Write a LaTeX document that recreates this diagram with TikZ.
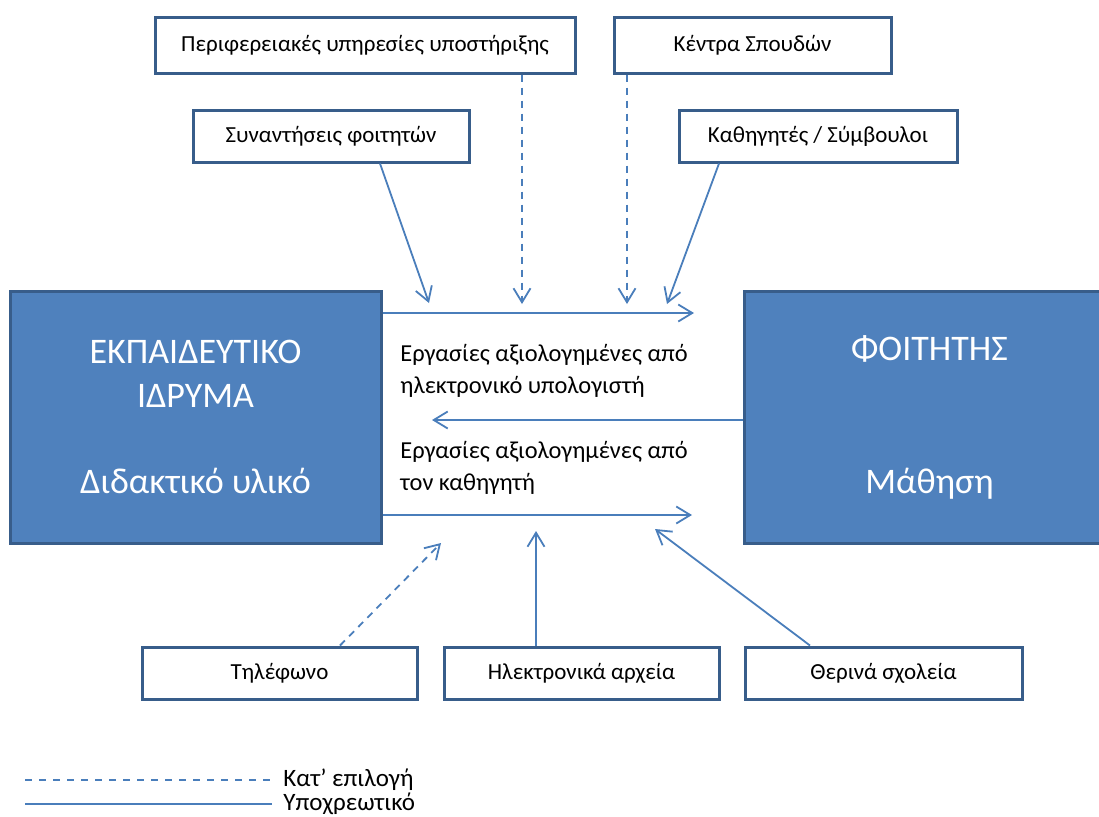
\documentclass[tikz,border=0pt]{standalone}
\usepackage{fontspec}
\setmainfont{Carlito}
\usetikzlibrary{arrows.meta}

\definecolor{boxfill}{HTML}{4F81BD}
\definecolor{boxline}{HTML}{385D8A}
\definecolor{arrowline}{HTML}{4A7EBB}

\begin{document}
\begin{tikzpicture}[x=0.5pt, y=-0.5pt,
        smallbox/.style={draw=boxline, line width=1.5pt, fill=white, minimum height=26pt, inner sep=0pt, font=\fontsize{11.5}{14}\selectfont},
        bigbox/.style={draw=boxline, line width=1.5pt, fill=boxfill, minimum width=185.5pt, minimum height=126pt, text=white, align=center, font=\fontsize{18}{22}\selectfont},
        link/.style={arrowline, line width=0.9pt, -{Straight Barb[length=7pt, width=8.5pt]}},
        optional/.style={dash pattern=on 3.5pt off 3pt}]
        \useasboundingbox (0,0) rectangle (1099,816);

        % main boxes
        \node[bigbox] (idryma) at (195.5,417) {ΕΚΠΑΙΔΕΥΤΙΚΟ\\ΙΔΡΥΜΑ\\[21pt]Διδακτικό υλικό};
        \node[bigbox] (foititis) at (929.5,417) {ΦΟΙΤΗΤΗΣ\\[44.5pt]Μάθηση};

        % top boxes
        \node[smallbox, minimum width=210pt, minimum height=28pt] (perif) at (365,45) {Περιφερειακές υπηρεσίες υποστήριξης};
        \node[smallbox, minimum width=138.5pt, minimum height=28pt] (kentra) at (752.5,45) {Κέντρα Σπουδών};
        \node[smallbox, minimum width=138pt] (synant) at (331,136) {Συναντήσεις φοιτητών};
        \node[smallbox, minimum width=139pt] (kathig) at (818,136) {Καθηγητές / Σύμβουλοι};

        % bottom boxes
        \node[smallbox, minimum width=137.5pt] (tilef) at (279.5,673) {Τηλέφωνο};
        \node[smallbox, minimum width=137.5pt] (ilektr) at (581.5,673) {Ηλεκτρονικά αρχεία};
        \node[smallbox, minimum width=138.5pt] (therina) at (883.5,673) {Θερινά σχολεία};

        % arrow ends
        \coordinate (t1) at (694,313);
        \coordinate (t2) at (432,420);
        \coordinate (t3) at (692,515);
        \coordinate (dsyn) at (429,303);
        \coordinate (dper) at (522,304);
        \coordinate (dken) at (627,304);
        \coordinate (dkat) at (667,304);
        \coordinate (util) at (441,543);
        \coordinate (uilk) at (536,531);
        \coordinate (uthe) at (655,529);

        \draw[link] (idryma.east |- t1) -- (t1);
        \draw[link] (foititis.west |- t2) -- (t2);
        \draw[link] (idryma.east |- t3) -- (t3);

        \draw[link] ([xshift=24.5pt]synant.south) -- (dsyn);
        \draw[link, optional] (perif.south -| dper) -- (dper);
        \draw[link, optional] (kentra.south -| dken) -- (dken);
        \draw[link] ([xshift=-49.5pt]kathig.south) -- (dkat);

        \draw[link, optional] ([xshift=30.25pt]tilef.north) -- (util);
        \draw[link] (ilektr.north -| uilk) -- (uilk);
        \draw[link] ([xshift=-36.75pt]therina.north) -- (uthe);

        % labels between the boxes
        \node[anchor=west, align=left, inner sep=0pt, font=\fontsize{12.2}{16}\selectfont] (pc) at (400,371) {Εργασίες αξιολογημένες από\\ηλεκτρονικό υπολογιστή};
        \node[anchor=west, align=left, inner sep=0pt, font=\fontsize{12.2}{16}\selectfont] (tutor) at (400,467.5) {Εργασίες αξιολογημένες από\\τον καθηγητή};

        % legend
        \coordinate (l1) at (25,780);
        \coordinate (l2) at (25,804);
        \node[anchor=west, inner sep=5.5pt, font=\fontsize{12.5}{14}\selectfont] (kat) at (272,780) {Κατ’ επιλογή};
        \node[anchor=west, inner sep=5.5pt, font=\fontsize{12.5}{14}\selectfont] (ypo) at (272,804) {Υποχρεωτικό};
        \draw[arrowline, line width=0.9pt, dash pattern=on 3.5pt off 3.5pt] (l1) -- (kat.west);
        \draw[arrowline, line width=1.2pt] (l2) -- (ypo.west);
\end{tikzpicture}
\end{document}
